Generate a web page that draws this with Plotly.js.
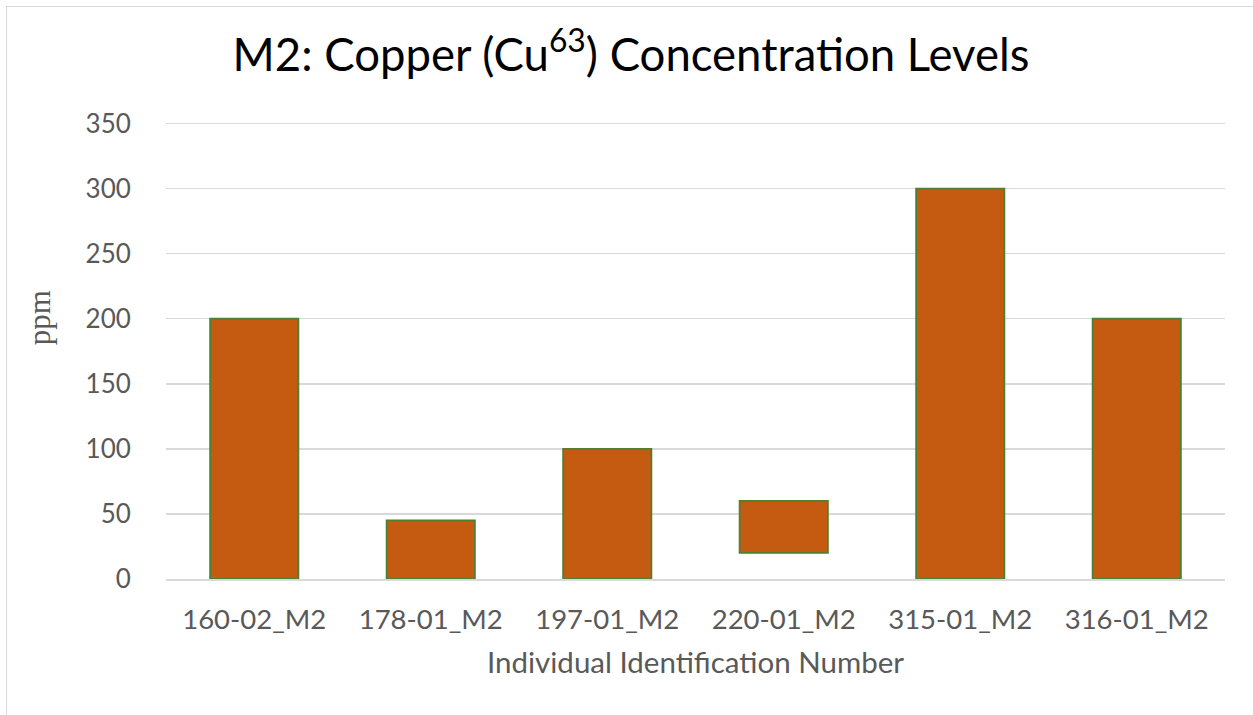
<!DOCTYPE html>
<html>
<head>
<meta charset="utf-8">
<script src="https://cdn.plot.ly/plotly-3.0.1.min.js"></script>
<style>
  html, body { margin: 0; padding: 0; background: #ffffff; }
  #frame { position: absolute; left: 6px; top: 6px; width: 1247px; height: 709px; border-left: 1.5px solid #d9d9d9; border-top: 1.5px solid #d9d9d9; box-sizing: border-box; }
  #chart { position: absolute; left: 0; top: 0; width: 1253px; height: 715px; }
</style>
</head>
<body>
<div id="frame"></div>
<div id="chart"></div>
<script>
const categories = ["160-02_M2", "178-01_M2", "197-01_M2", "220-01_M2", "315-01_M2", "316-01_M2"];
const lowValues  = [0, 0, 0, 20, 0, 0];
const highValues = [200, 45, 100, 60, 300, 200];
const yTicks = [0, 50, 100, 150, 200, 250, 300, 350];

const barHeights = highValues.map((h, i) => h - lowValues[i]);

const trace = {
  type: "bar",
  x: categories,
  y: barHeights,
  base: lowValues,
  width: 0.5,
  marker: { color: "#C55A11", line: { color: "#4F7F30", width: 1.8 } },
  hoverinfo: "x+y"
};

const layout = {
  width: 1253,
  height: 715,
  paper_bgcolor: "rgba(0,0,0,0)",
  plot_bgcolor: "rgba(0,0,0,0)",
  margin: { l: 166, r: 28, t: 116.5, b: 136 },
  showlegend: false,
  font: { family: "Lato, 'Open Sans', sans-serif", color: "#595959", size: 26 },
  title: {
    text: "M2: Copper (Cu<sup>63</sup>) Concentration Levels",
    font: { family: "Lato, 'Open Sans', sans-serif", size: 45.5, color: "#000000" },
    x: 0.5036, xanchor: "center", xref: "container",
    y: 0.923, yanchor: "middle", yref: "container"
  },
  xaxis: {
    type: "category",
    tickvals: categories,
    ticktext: categories,
    showgrid: false,
    showline: true,
    linecolor: "#d9d9d9",
    linewidth: 1.5,
    ticks: "outside",
    ticklen: 15,
    tickcolor: "rgba(0,0,0,0)",
    tickfont: { size: 27.5, color: "#595959" },
    title: { text: "Individual Identification Number", font: { size: 29.5, color: "#595959" }, standoff: 19 }
  },
  yaxis: {
    range: [0, 355],
    tickvals: yTicks,
    ticktext: yTicks.map(String),
    showgrid: true,
    gridcolor: "#d9d9d9",
    gridwidth: 1.5,
    zeroline: false,
    showline: false,
    ticks: "outside",
    ticklen: 29,
    tickcolor: "rgba(0,0,0,0)",
    tickfont: { size: 26, color: "#595959" }
  },
  annotations: [{
    text: "ppm",
    xref: "paper", yref: "paper",
    x: (39 - 166) / 1059, y: (579 - 318) / 462.5,
    xanchor: "center", yanchor: "middle",
    textangle: -90,
    showarrow: false,
    font: { family: "'Liberation Serif', 'DejaVu Serif', serif", size: 31, color: "#595959" }
  }]
};

Plotly.newPlot("chart", [trace], layout, { displayModeBar: false, staticPlot: true });
</script>
</body>
</html>
